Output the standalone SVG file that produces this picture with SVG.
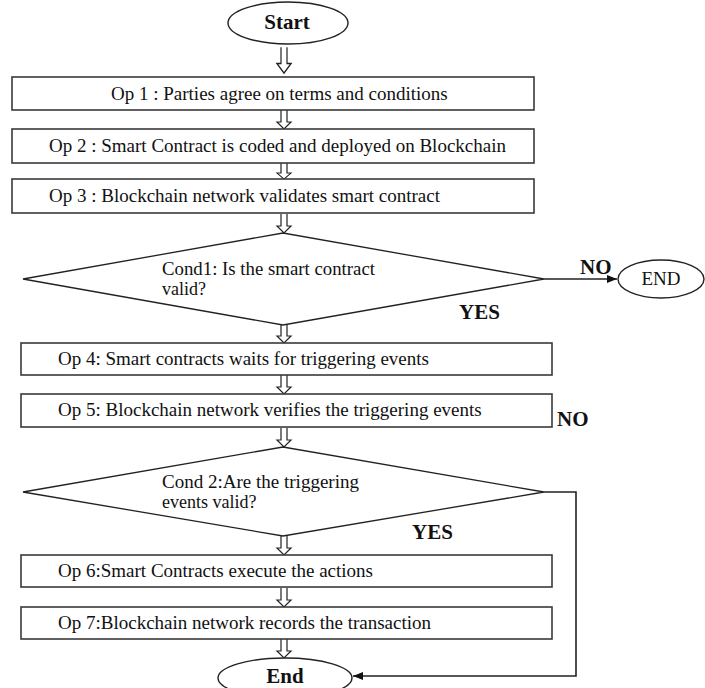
<svg xmlns="http://www.w3.org/2000/svg" width="705" height="688" viewBox="0 0 705 688">
  <defs>
    <marker id="head" markerWidth="10" markerHeight="8" refX="10" refY="4" orient="auto" markerUnits="userSpaceOnUse">
      <path d="M0,0 L10,4 L0,8 Z" fill="#111"/>
    </marker>
    <!-- hollow down arrow, tip at (0,0) -->
    <path id="down" d="M-3,-19 V-7 H-7 L0,0 L7,-7 H3 V-19"/>
  </defs>
  <style>
    .box { fill: #fff; stroke: #3a3a3a; stroke-width: 1.6; }
    .term { fill: #fff; stroke: #222; stroke-width: 1.4; }
    .dia { fill: #fff; stroke: #222; stroke-width: 1.3; }
    .t { font-family: "Liberation Serif", "Times New Roman", serif; font-size: 19px; fill: #111; }
    .c { font-family: "Liberation Serif", "Times New Roman", serif; font-size: 18px; fill: #111; }
    .b { font-family: "Liberation Serif", "Times New Roman", serif; font-size: 21px; font-weight: bold; fill: #111; }
    .hollow { fill: #fff; stroke: #222; stroke-width: 1.2; }
    .line { fill: none; stroke: #222; stroke-width: 1.6; }
  </style>

  <g id="connectors">
    <use href="#down" class="hollow" transform="translate(284,73) scale(1,1.35)"/>
    <use href="#down" class="hollow" transform="translate(284,129)"/>
    <use href="#down" class="hollow" transform="translate(284,179) scale(1,0.85)"/>
    <use href="#down" class="hollow" transform="translate(284,233)"/>
    <use href="#down" class="hollow" transform="translate(284,343)"/>
    <use href="#down" class="hollow" transform="translate(284,394)"/>
    <use href="#down" class="hollow" transform="translate(284,447)"/>
    <use href="#down" class="hollow" transform="translate(284,555)"/>
    <use href="#down" class="hollow" transform="translate(284,607)"/>
    <use href="#down" class="hollow" transform="translate(284,658)"/>
    <line class="line" x1="544" y1="279" x2="617" y2="279" marker-end="url(#head)"/>
    <polyline class="line" points="544,492 576,492 576,676 353,676" marker-end="url(#head)"/>
    <text class="b" x="580" y="274">NO</text>
    <text class="b" x="459" y="319">YES</text>
    <text class="b" x="557" y="426">NO</text>
    <text class="b" x="412" y="539">YES</text>
  </g>

  <g id="start">
    <ellipse class="term" cx="288" cy="23" rx="60" ry="21"/>
    <text class="b" x="287" y="29" text-anchor="middle" font-size="18">Start</text>
  </g>

  <g id="op1">
    <rect class="box" x="12" y="77" width="522" height="33"/>
    <text class="t" x="111" y="100">Op 1 : Parties agree on terms and conditions</text>
  </g>

  <g id="op2">
    <rect class="box" x="12" y="129" width="522" height="34"/>
    <text class="t" x="49" y="152">Op 2 : Smart Contract is coded and deployed on Blockchain</text>
  </g>

  <g id="op3">
    <rect class="box" x="12" y="179" width="522" height="34"/>
    <text class="t" x="49" y="202">Op 3 : Blockchain network validates smart contract</text>
  </g>

  <g id="cond1">
    <polygon class="dia" points="23,279 283,233 544,279 283,325"/>
    <text class="c" x="162" y="275" textLength="213" lengthAdjust="spacingAndGlyphs">Cond1: Is the smart contract</text>
    <text class="c" x="162" y="295">valid?</text>
  </g>

  <g id="end-right">
    <ellipse class="term" cx="661" cy="279" rx="43" ry="19"/>
    <text class="t" x="661" y="285" text-anchor="middle" font-size="17">END</text>
  </g>

  <g id="op4">
    <rect class="box" x="21" y="343" width="531" height="32"/>
    <text class="t" x="58" y="365">Op 4: Smart contracts waits for triggering events</text>
  </g>

  <g id="op5">
    <rect class="box" x="21" y="394" width="531" height="33"/>
    <text class="t" x="58" y="416">Op 5: Blockchain network verifies the triggering events</text>
  </g>

  <g id="cond2">
    <polygon class="dia" points="23,492 283,447 544,492 283,536"/>
    <text class="c" x="162" y="488" textLength="197" lengthAdjust="spacingAndGlyphs">Cond 2:Are the triggering</text>
    <text class="c" x="162" y="508">events valid?</text>
  </g>

  <g id="op6">
    <rect class="box" x="21" y="555" width="531" height="32"/>
    <text class="t" x="58" y="577">Op 6:Smart Contracts execute the actions</text>
  </g>

  <g id="op7">
    <rect class="box" x="21" y="607" width="531" height="32"/>
    <text class="t" x="58" y="629">Op 7:Blockchain network records the transaction</text>
  </g>

  <g id="end-bottom">
    <ellipse class="term" cx="285" cy="678" rx="67" ry="20"/>
    <text class="b" x="285" y="683" text-anchor="middle" font-size="17">End</text>
  </g>
</svg>
